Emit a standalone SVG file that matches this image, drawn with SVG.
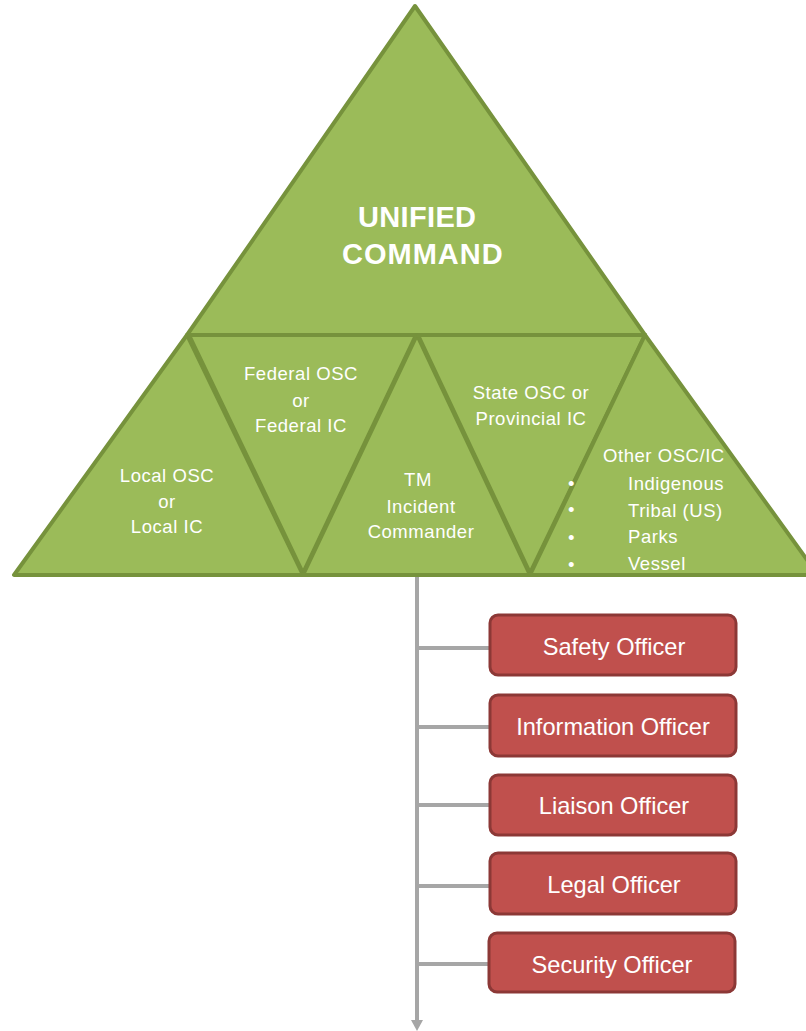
<svg xmlns="http://www.w3.org/2000/svg" width="806" height="1031" viewBox="0 0 806 1031">
<defs>
<style>
.tri{fill:#9bbb59;stroke:#76923c;stroke-width:4;stroke-linejoin:round}
.tt{fill:#ffffff;font-family:"Liberation Sans",Arial,sans-serif;font-size:18.5px;letter-spacing:0.55px}
.big{fill:#ffffff;font-family:"Liberation Sans",Arial,sans-serif;font-size:29px;font-weight:bold;letter-spacing:1px}
.box{fill:#c0504d;stroke:#8c3836;stroke-width:3}
.bt{fill:#ffffff;font-family:"Liberation Sans",Arial,sans-serif;font-size:23.6px;text-anchor:middle}
.con{stroke:#a6a6a6;stroke-width:4;fill:none}
.arrowhead{fill:#a6a6a6}
</style>
</defs>
<rect width="806" height="1031" fill="#ffffff"/>

<g id="connectors">
<line class="con" x1="417" y1="577" x2="417" y2="1022"/>
<polygon class="arrowhead" points="411,1020 423,1020 417,1031"/>
<line class="con" x1="417" y1="648" x2="490" y2="648"/>
<line class="con" x1="417" y1="727" x2="490" y2="727"/>
<line class="con" x1="417" y1="805" x2="490" y2="805"/>
<line class="con" x1="417" y1="886" x2="490" y2="886"/>
<line class="con" x1="417" y1="964" x2="490" y2="964"/>
</g>

<g id="unified-command">
<polygon class="tri" points="415,6 187,335 645,335"/>
<text class="big" x="358" y="227" textLength="119">UNIFIED</text>
<text class="big" x="342" y="264">COMMAND</text>
</g>

<g id="local">
<polygon class="tri" points="187,335 14,575 303,575"/>
<text class="tt" text-anchor="middle" x="167" y="482">Local OSC</text>
<text class="tt" text-anchor="middle" x="167" y="508">or</text>
<text class="tt" text-anchor="middle" x="167" y="533">Local IC</text>
</g>

<g id="federal">
<polygon class="tri" points="189,335 416,335 303,573"/>
<text class="tt" text-anchor="middle" x="301" y="380">Federal OSC</text>
<text class="tt" text-anchor="middle" x="301" y="407">or</text>
<text class="tt" text-anchor="middle" x="301" y="432">Federal IC</text>
</g>

<g id="tm">
<polygon class="tri" points="417,335 303,575 530,575"/>
<text class="tt" text-anchor="middle" x="418" y="486">TM</text>
<text class="tt" text-anchor="middle" x="421" y="513">Incident</text>
<text class="tt" text-anchor="middle" x="421" y="538">Commander</text>
</g>

<g id="state">
<polygon class="tri" points="418,335 645,335 530,573"/>
<text class="tt" text-anchor="middle" x="531" y="399">State OSC or</text>
<text class="tt" text-anchor="middle" x="531" y="425">Provincial IC</text>
</g>

<g id="other">
<polygon class="tri" points="645,335 530,575 818,575"/>
<text class="tt" x="603" y="462">Other OSC/IC</text>
<text class="tt" x="568" y="490">•</text>
<text class="tt" x="568" y="516">•</text>
<text class="tt" x="568" y="544">•</text>
<text class="tt" x="568" y="571">•</text>
<text class="tt" x="628" y="490">Indigenous</text>
<text class="tt" x="628" y="517">Tribal (US)</text>
<text class="tt" x="628" y="543">Parks</text>
<text class="tt" x="628" y="570">Vessel</text>
</g>

<g id="safety">
<rect class="box" x="490" y="615" width="246" height="60" rx="8"/>
<text class="bt" x="614" y="655">Safety Officer</text>
</g>
<g id="information">
<rect class="box" x="490" y="695" width="246" height="61" rx="8"/>
<text class="bt" x="613" y="735">Information Officer</text>
</g>
<g id="liaison">
<rect class="box" x="490" y="775" width="246" height="60" rx="8"/>
<text class="bt" x="614" y="814">Liaison Officer</text>
</g>
<g id="legal">
<rect class="box" x="490" y="853" width="246" height="61" rx="8"/>
<text class="bt" x="614" y="893">Legal Officer</text>
</g>
<g id="security">
<rect class="box" x="489" y="933" width="246" height="59" rx="8"/>
<text class="bt" x="612" y="973">Security Officer</text>
</g>
</svg>
